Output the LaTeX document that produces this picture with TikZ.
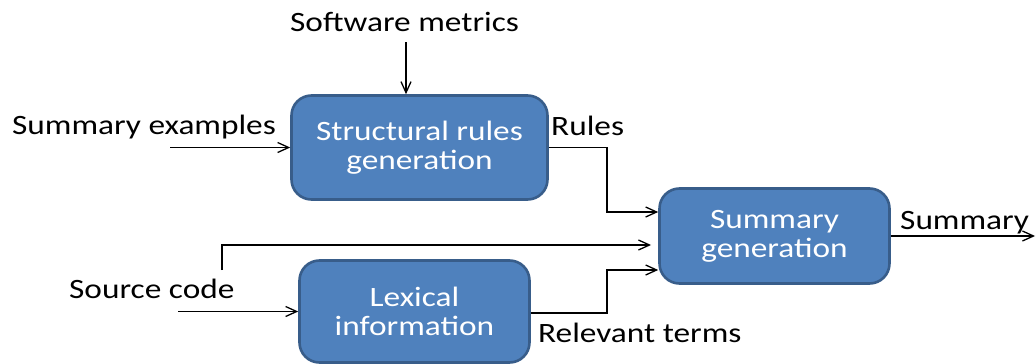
\documentclass[tikz,border=0pt]{standalone}
\usepackage{fontspec}
\setmainfont{Carlito}[FakeStretch=1.19]
\usetikzlibrary{arrows.meta,calc}
\definecolor{boxfill}{HTML}{4F81BD}
\definecolor{boxborder}{HTML}{385D8A}
\begin{document}
\begin{tikzpicture}[x=1pt,y=-1pt,
  blk/.style={draw=boxborder,line width=2.6pt,fill=boxfill,rounded corners=20pt,
    text=white,align=center,inner sep=0pt,font=\fontsize{28}{29}\selectfont},
  lbl/.style={anchor=base west,inner sep=0pt,font=\fontsize{28}{29}\selectfont},
  conn/.style={line width=1.3pt,-{Straight Barb[length=11pt,width=10pt]}}]
\useasboundingbox (0,0) rectangle (1036,364);
% boxes
\node[blk,minimum width=256pt,minimum height=104pt] (b1) at (419.5,147.5) {Structural rules\\generation};
\node[blk,minimum width=230pt,minimum height=95pt] (b2) at (774.5,236) {Summary\\generation};
\node[blk,minimum width=230pt,minimum height=102pt] (b3) at (414.5,311.5) {Lexical\\information};
% labels
\node[lbl] (sm) at (290,31) {Software metrics};
\node[lbl] (se) at (12,134) {Summary examples};
\node[lbl] (ru) at (551,135) {Rules};
\node[lbl] (su) at (900,229) {Summary};
\node[lbl] (sc) at (69,298) {Source code};
\node[lbl] (rt) at (538,342) {Relevant terms};
% free ends
\coordinate (smstart) at (406,42);
\coordinate (sestart) at (170,147.5);
\coordinate (scup) at (222,270);
\coordinate (scend) at (651,245);
\coordinate (lxstart) at (178,311.5);
\coordinate (sumend) at (1035,236);
% connectors
\draw[conn] (smstart) -- (smstart |- b1.north);
\draw[conn] (sestart) -- (b1.west);
\draw[conn] (b1.east) -| (607,212) -- (b2.west |- 0,212);
\draw[conn] (scup) |- (scend);
\draw[conn] (lxstart) -- (b3.west);
\draw[conn] (b3.east |- 0,313) -| (607,270) -- (b2.west |- 0,270);
\draw[conn] (b2.east) -- (sumend);
\end{tikzpicture}
\end{document}
